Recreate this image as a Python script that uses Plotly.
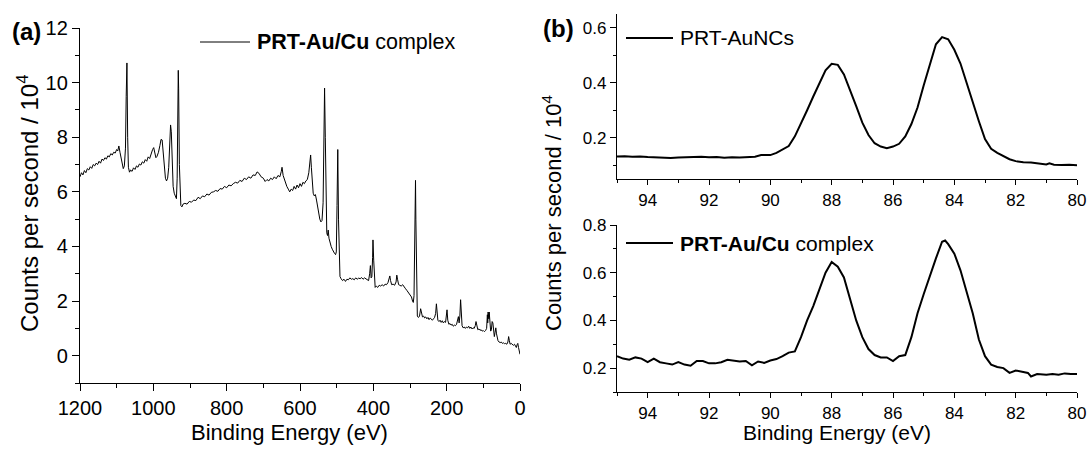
import plotly.graph_objects as go

# ---------------- data: panel (a) survey ----------------
a_energy = [1200, 1196, 1192, 1188, 1184, 1180, 1176, 1172, 1168, 1164, 1160, 1156, 1152, 1148, 1144, 1140,
            1136, 1132, 1128, 1124, 1120, 1116, 1112, 1108, 1104, 1100, 1097, 1094, 1091, 1088, 1085, 1082,
            1079, 1076, 1074, 1072, 1070, 1068, 1065, 1062, 1058, 1054, 1050, 1046, 1042, 1038, 1034, 1030,
            1026, 1022, 1018, 1014, 1010, 1006, 1002, 999, 996, 993, 990, 986, 982, 979, 976, 973, 970, 967,
            964, 961, 958, 955, 953, 951, 949, 946, 943, 940, 937, 935, 933, 932, 931, 929, 927, 925, 922,
            919, 914, 908, 902, 896, 890, 884, 878, 872, 866, 860, 854, 848, 842, 836, 830, 824, 818, 812,
            806, 800, 794, 788, 782, 776, 770, 764, 758, 752, 746, 740, 734, 728, 722, 717, 712, 706, 700,
            695, 690, 685, 680, 675, 670, 665, 660, 655, 651, 649, 646, 643, 640, 636, 632, 628, 624, 620,
            616, 612, 608, 604, 600, 596, 592, 588, 584, 580, 576, 573, 571, 569, 567, 564, 561, 558, 555,
            552, 549, 546, 543, 540, 537, 535, 533, 531, 529, 527, 525, 523, 521, 518, 515, 512, 509, 506,
            503, 501, 499, 497, 495, 493, 491, 488, 484, 480, 476, 472, 468, 464, 460, 456, 452, 448, 444,
            440, 436, 432, 428, 424, 420, 416, 413, 410, 408, 406, 404, 402, 401, 399, 397, 395, 392, 388,
            384, 380, 376, 372, 368, 364, 360, 357, 355, 353, 350, 346, 342, 338, 336, 334, 331, 328, 324,
            320, 316, 312, 308, 304, 300, 296, 293, 291, 289, 287, 285, 284, 282, 280, 277, 274, 271, 269,
            266, 263, 260, 257, 254, 251, 248, 245, 242, 239, 236, 233, 230, 228, 226, 224, 221, 218, 215,
            212, 209, 206, 203, 201, 199, 197, 194, 191, 188, 185, 182, 179, 176, 173, 170, 168, 166, 164,
            162, 160, 158, 155, 152, 149, 146, 143, 140, 137, 134, 131, 128, 125, 122, 120, 118, 115, 112,
            109, 106, 103, 100, 97, 94, 91, 89, 88, 87, 85, 84, 82, 80, 78, 76, 74, 72, 70, 68, 66, 64, 62,
            60, 57, 54, 51, 48, 45, 42, 39, 36, 33, 31, 29, 27, 24, 21, 18, 15, 12, 10, 8, 6, 4, 2, 0]
a_counts = [6.55, 6.7, 6.62, 6.78, 6.7, 6.85, 6.8, 6.92, 6.86, 7.0, 6.95, 7.05, 7.0, 7.12, 7.05, 7.2,
            7.15, 7.25, 7.2, 7.32, 7.28, 7.4, 7.35, 7.45, 7.42, 7.55, 7.5, 7.68, 7.45, 7.2, 7.0, 6.85,
            6.95, 7.6, 9.5, 10.72, 8.0, 6.9, 6.72, 6.8, 6.75, 6.88, 6.82, 6.95, 6.9, 7.02, 6.98, 7.1,
            7.05, 7.18, 7.12, 7.28, 7.22, 7.4, 7.55, 7.62, 7.35, 7.25, 7.3, 7.45, 7.7, 7.92, 7.9, 7.4, 6.8, 6.5,
            6.4, 6.5, 6.9, 7.8, 8.45, 8.2, 7.0, 6.2, 5.95, 5.8, 5.75, 6.5, 9.5, 10.45, 9.8, 7.0, 5.8, 5.5, 5.45,
            5.55, 5.58, 5.55, 5.65, 5.62, 5.7, 5.68, 5.8, 5.75, 5.85, 5.82, 5.92, 5.88, 5.98, 6.0, 6.05, 6.02, 6.12, 6.1,
            6.2, 6.15, 6.25, 6.22, 6.3, 6.35, 6.32, 6.42, 6.38, 6.5, 6.45, 6.55, 6.5, 6.62, 6.6, 6.73, 6.68, 6.55, 6.5,
            6.38, 6.45, 6.4, 6.5, 6.45, 6.55, 6.48, 6.6, 6.55, 6.75, 6.9, 6.6, 6.45, 6.3, 6.2, 6.1, 6.0, 6.1, 6.05,
            6.2, 6.1, 6.25, 6.15, 6.3, 6.2, 6.35, 6.3, 6.4, 6.45, 6.7, 7.0, 7.35, 6.9, 6.3, 5.95, 5.85, 5.9, 5.7,
            5.4, 5.2, 5.0, 4.9, 4.95, 5.6, 7.5, 9.8, 8.0, 5.0, 4.5, 4.4, 4.6, 4.3, 4.1, 4.0, 3.9, 3.8, 3.75,
            3.7, 3.8, 5.5, 7.55, 5.0, 3.2, 2.9, 2.82, 2.75, 2.8, 2.72, 2.8, 2.78, 2.85, 2.8, 2.82, 2.78, 2.85, 2.8,
            2.84, 2.82, 2.86, 2.8, 2.85, 2.82, 2.8, 2.75, 3.0, 3.3, 2.85, 2.9, 3.6, 4.24, 3.5, 2.7, 2.5, 2.55, 2.5,
            2.58, 2.55, 2.6, 2.55, 2.62, 2.6, 2.68, 2.8, 2.92, 2.75, 2.6, 2.62, 2.58, 2.7, 2.95, 2.8, 2.6, 2.58, 2.55,
            2.6, 2.5, 2.45, 2.38, 2.3, 2.25, 2.15, 2.0, 1.95, 2.2, 4.5, 6.42, 5.0, 2.5, 1.45, 1.4, 1.45, 1.72, 1.55,
            1.42, 1.45, 1.38, 1.42, 1.35, 1.4, 1.32, 1.38, 1.35, 1.3, 1.35, 1.4, 1.55, 1.9, 1.6, 1.3, 1.25, 1.3, 1.22,
            1.28, 1.2, 1.25, 1.22, 1.5, 1.68, 1.3, 1.15, 1.18, 1.12, 1.15, 1.08, 1.12, 1.1, 1.15, 1.35, 1.43, 1.2, 1.45,
            2.05, 1.5, 1.1, 1.02, 1.05, 1.0, 1.05, 1.02, 1.08, 1.0, 1.05, 0.98, 1.02, 1.0, 1.1, 1.25, 1.05, 0.95, 0.98,
            0.93, 0.95, 0.9, 0.92, 0.88, 0.92, 1.0, 1.5, 1.2, 1.6, 1.35, 1.6, 1.1, 0.9, 0.95, 1.25, 1.2, 0.8, 0.7, 0.85, 1.02, 0.8, 0.6,
            0.55, 0.5, 0.48, 0.5, 0.45, 0.47, 0.44, 0.45, 0.42, 0.5, 0.7, 0.55, 0.42, 0.45, 0.4, 0.38, 0.42, 0.35, 0.3, 0.4, 0.45, 0.3, 0.15, 0.05]

# ---------------- data: panel (b) Au 4f ----------------
b_top_energy = [95.0, 94.75, 94.5, 94.25, 94.0, 93.75, 93.5, 93.25, 93.0, 92.75, 92.5, 92.25, 92.0, 91.75,
                91.5, 91.25, 91.0, 90.75, 90.5, 90.3, 90.0, 89.8, 89.6, 89.4, 89.2, 89.0, 88.8, 88.6, 88.4,
                88.2, 88.0, 87.8, 87.6, 87.4, 87.2, 87.0, 86.8, 86.6, 86.4, 86.2, 86.0, 85.8, 85.6, 85.4,
                85.2, 85.0, 84.8, 84.6, 84.4, 84.2, 84.0, 83.8, 83.6, 83.4, 83.2, 83.0, 82.8, 82.6, 82.4,
                82.2, 82.0, 81.75, 81.5, 81.25, 81.0, 80.9, 80.75, 80.5, 80.25, 80.0]
b_top_counts = [0.132, 0.133, 0.131, 0.132, 0.130, 0.129, 0.128, 0.126, 0.128, 0.129, 0.130, 0.131, 0.129, 0.130,
                0.127, 0.129, 0.128, 0.129, 0.131, 0.137, 0.137, 0.145, 0.158, 0.170, 0.205, 0.250, 0.300, 0.350, 0.400,
                0.445, 0.469, 0.465, 0.430, 0.375, 0.315, 0.255, 0.210, 0.180, 0.168, 0.162, 0.168, 0.178, 0.205, 0.250,
                0.310, 0.390, 0.470, 0.540, 0.566, 0.558, 0.520, 0.470, 0.400, 0.327, 0.260, 0.195, 0.160, 0.145, 0.132,
                0.122, 0.115, 0.111, 0.110, 0.107, 0.103, 0.107, 0.102, 0.101, 0.102, 0.100]

b_bot_energy = [95.0, 94.8, 94.6, 94.4, 94.2, 94.0, 93.8, 93.6, 93.4, 93.2, 93.0, 92.8, 92.6, 92.4, 92.2, 92.0,
                91.8, 91.6, 91.4, 91.2, 91.0, 90.8, 90.6, 90.4, 90.2, 90.0, 89.8, 89.6, 89.4, 89.2, 89.1, 89.0,
                88.8, 88.6, 88.4, 88.2, 88.0, 87.8, 87.6, 87.4, 87.2, 87.0, 86.8, 86.6, 86.4, 86.2, 86.0, 85.8,
                85.6, 85.4, 85.2, 85.0, 84.8, 84.6, 84.4, 84.3, 84.2, 84.0, 83.8, 83.6, 83.4, 83.2, 83.0, 82.8,
                82.6, 82.4, 82.2, 82.0, 81.8, 81.6, 81.5, 81.3, 81.0, 80.8, 80.6, 80.4, 80.2, 80.0]
b_bot_counts = [0.25, 0.24, 0.235, 0.245, 0.24, 0.225, 0.24, 0.225, 0.22, 0.215, 0.225, 0.215, 0.21, 0.23, 0.23, 0.22,
                0.22, 0.225, 0.235, 0.23, 0.228, 0.23, 0.212, 0.228, 0.222, 0.232, 0.238, 0.25, 0.265, 0.27, 0.30, 0.33,
                0.40, 0.46, 0.53, 0.60, 0.645, 0.625, 0.58, 0.49, 0.40, 0.33, 0.28, 0.255, 0.245, 0.245, 0.23, 0.25,
                0.255, 0.33, 0.43, 0.51, 0.59, 0.66, 0.73, 0.735, 0.72, 0.68, 0.61, 0.52, 0.43, 0.32, 0.25, 0.215,
                0.205, 0.20, 0.18, 0.19, 0.185, 0.18, 0.165, 0.175, 0.172, 0.175, 0.172, 0.178, 0.175, 0.175]

a_legend = "<b>PRT-Au/Cu</b> complex"
b_top_legend = "PRT-AuNCs"
b_bot_legend = "<b>PRT-Au/Cu</b> complex"
y_title = "Counts per second / 10<sup>4</sup>"
x_title = "Binding Energy (eV)"

W, H = 1090, 450
FONT = "Liberation Sans, Arial, sans-serif"


def px(x):
    return x / W


def py(y):
    return 1 - y / H


fig = go.Figure()
fig.add_trace(go.Scatter(x=a_energy, y=a_counts, mode="lines", line=dict(color="black", width=1),
                         xaxis="x", yaxis="y", showlegend=False))
fig.add_trace(go.Scatter(x=b_top_energy, y=b_top_counts, mode="lines", line=dict(color="black", width=2),
                         xaxis="x2", yaxis="y2", showlegend=False))
fig.add_trace(go.Scatter(x=b_bot_energy, y=b_bot_counts, mode="lines", line=dict(color="black", width=2),
                         xaxis="x3", yaxis="y3", showlegend=False))


def axis(rng, dtick, tick0, minor_dtick, dom, anchor, fsize, ticklen=7, mticklen=4):
    return dict(range=rng, dtick=dtick, tick0=tick0, domain=dom, anchor=anchor, automargin=False,
                ticks="outside", ticklen=ticklen, tickwidth=1.3, tickcolor="black",
                minor=dict(dtick=minor_dtick, tick0=tick0, ticks="outside", ticklen=mticklen,
                           tickwidth=1.3, tickcolor="black"),
                showline=True, linecolor="black", linewidth=1.3, showgrid=False, zeroline=False,
                tickfont=dict(family=FONT, size=fsize, color="black"), mirror=False)


xa_dom = [px(80), px(520)]
xb_dom = [px(617), px(1077)]

fig.update_layout(
    template="none",
    width=W, height=H, margin=dict(l=0, r=0, t=0, b=0, pad=0),
    paper_bgcolor="white", plot_bgcolor="white",
    font=dict(family=FONT, color="black"),
    xaxis=axis([1200, 0], 200, 0, 100, xa_dom, "y", 20),
    yaxis=axis([-1, 12], 2, 0, 1, [py(383), py(28)], "x", 20),
    xaxis2=axis([95, 80], 2, 80, 1, xb_dom, "y2", 17, 5, 3),
    yaxis2=axis([0.05, 0.65], 0.2, 0.2, 0.1, [py(179), py(14)], "x2", 17, 6, 3),
    xaxis3=axis([95, 80], 2, 80, 1, xb_dom, "y3", 17, 5, 3),
    yaxis3=axis([0.1, 0.8], 0.2, 0.2, 0.1, [py(392), py(225)], "x3", 17, 6, 3),
)

ann = []


def add_text(text, x, y, size, xanchor="left", yanchor="middle", angle=0):
    ann.append(dict(text=text, x=px(x), y=py(y), xref="paper", yref="paper", showarrow=False,
                    xanchor=xanchor, yanchor=yanchor, textangle=angle,
                    font=dict(family=FONT, size=size, color="black")))


add_text("<b>(a)</b>", 10, 31, 24)
add_text("<b>(b)</b>", 541, 29, 24)
add_text(y_title, 28, 203, 24, xanchor="center", angle=-90)
add_text(y_title, 552, 213, 22, xanchor="center", angle=-90)
add_text(x_title, 289, 432, 22, xanchor="center")
add_text(x_title, 837, 432, 21, xanchor="center")
add_text(a_legend, 255, 42, 21.5)
add_text(b_top_legend, 678, 38, 21)
add_text(b_bot_legend, 678, 243, 21)

shapes = [
    dict(type="line", xref="paper", yref="paper", x0=px(200), x1=px(250), y0=py(42), y1=py(42),
         line=dict(color="black", width=1)),
    dict(type="line", xref="paper", yref="paper", x0=px(626), x1=px(673), y0=py(38), y1=py(38),
         line=dict(color="black", width=2)),
    dict(type="line", xref="paper", yref="paper", x0=px(626), x1=px(673), y0=py(243), y1=py(243),
         line=dict(color="black", width=2)),
]
fig.update_layout(annotations=ann, shapes=shapes)

fig.write_html("out.html", config={"displayModeBar": False},
               post_script="document.body.style.margin='0';document.body.style.overflow='hidden';")
